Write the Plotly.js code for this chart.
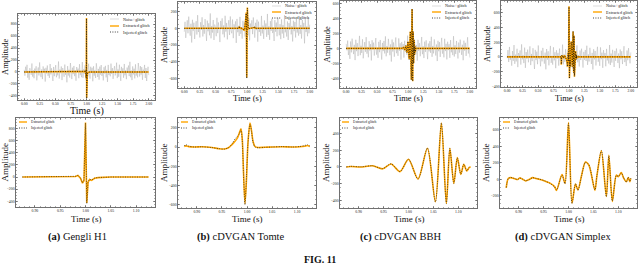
<!DOCTYPE html>
<html><head><meta charset="utf-8">
<script src="https://cdn.plot.ly/plotly-3.0.1.min.js"></script>
<style>html,body{margin:0;padding:0;background:#fff}#chart{width:640px;height:268px}</style>
</head><body><div id="chart"></div>
<script>
// ---------------- data ----------------
const noiseA = [35,-62,88,-14,120,-95,20,-130,64,5,-48,142,-77,31,-105,58,-22,96,-140,12,75,-58,160,-33,-86,44,-118,93,-7,55,-160,70,-25,108,-64,18,-99,133,-41,62,-12,-150,84,-70,27,115,-88,9,-57,175,-110,40,-20,92,-135,66,-3,-80,124,-46,10,-172,98,-60,38,-92,150,-15,-118,72,-36,101,-69,25,-145,83,-8,57,-104,130,-52,14,-87,166,-97,47,-30,112,-125,60,5,-75,138,-40,-110,88,-18,70,-155,95,-62,28,-100,145,-5,-83,52,-128,90,-44,116,-66,21,-140,79,-26,103,-90,35,-165,118,-50,8,-72,140,-33,64,-115,15,97,-58,-12,155,-102,44,-80,122,-38,-148,86,-20,62,-96,134,-55,30,-120,74,-9,108,-68,170,-88,26,-135,93,-41,55,-107,128,-61,17,-90,150,-28,-76,99,-45,82,-130,40,-16,118,-100,66,-150,25,87,-53];
const noiseB = [-42,78,-115,23,96,-60,140,-12,-88,55,-170,102,-30,67,-128,14,85,-75,158,-45,9,-110,73,-20,132,-98,40,-65,110,-5,-150,92,-36,60,-84,178,-120,28,-52,99,-140,45,16,-95,126,-58,70,-24,-165,88,-10,119,-72,35,-108,150,-40,64,-133,20,97,-80,142,-28,-60,105,-118,48,-15,83,-175,112,-47,30,-92,137,-66,2,-124,90,-33,72,-100,160,-54,19,-86,121,-145,58,-8,96,-70,130,-38,-112,66,-22,104,-160,80,-44,12,-90,148,-62,33,-127,94,-17,58,-103,172,-79,24,-138,86,-31,115,-57,6,-152,98,-41,69,-96,125,-25,-84,50,-130,107,-63,37,-117,156,-48,11,-99,82,-140,63,-19,118,-73,27,-158,91,-35,76,-110,135,-52,8,-88,146,-67,39,-123,100,-14,65,-180,110,-45,22,-95,128,-60,44];
const noiseC = [60,-25,104,-88,17,-140,92,-53,130,-10,-76,48,-155,115,-37,70,-102,24,166,-90,35,-60,121,-132,8,84,-45,150,-70,20,-118,96,-28,57,-160,109,-14,77,-95,40,138,-82,3,-126,88,-50,112,-21,-148,73,-36,99,-67,160,-105,31,-58,127,-12,-90,54,-175,118,-42,80,-110,26,145,-64,10,-99,133,-30,68,-150,86,-20,59,-122,102,-48,15,-85,170,-116,38,-72,106,-8,-137,94,-55,122,-26,-80,46,-162,114,-34,71,-104,19,152,-77,28,-128,90,-46,108,-16,-143,65,-40,97,-59,155,-112,33,-66,120,-4,-94,52,-168,101,-38,83,-113,22,140,-70,13,-119,128,-35,61,-146,89,-23,56,-125,110,-52,18,-89,163,-108,42,-75,99,-11,-134,78,-57,117,-29,-86,49,-157,103,-30,74,-100,25,148,-68,7,-121];
const noiseD = [-18,92,-70,135,-40,15,-120,78,-55,160,-95,30,-62,110,-140,52,-8,88,-105,170,-35,21,-85,126,-150,66,-27,99,-74,12,143,-112,40,-58,118,-16,-165,95,-44,71,-100,155,-30,6,-128,84,-61,122,-20,-92,58,-170,107,-39,76,-115,28,149,-82,14,-106,131,-48,63,-154,90,-25,54,-119,113,-51,20,-88,167,-102,36,-69,104,-6,-141,97,-52,125,-23,-78,44,-159,116,-37,73,-101,17,157,-73,26,-131,87,-43,111,-13,-146,68,-41,94,-56,152,-109,34,-63,123,-2,-97,55,-172,104,-35,80,-117,23,137,-67,11,-122,129,-32,58,-149,92,-21,53,-128,108,-49,16,-91,161,-111,45,-78,96,-9,-138,81,-54,114,-27,-83,47,-154,101,-33,77,-98,29,145,-71,4,-124,86,-46,119,-18,-88,60];

// glitch keypoints (time in s, amplitude)
const tA   = [0.875,0.90,0.95,0.97,0.980,0.985,0.990,0.994,0.997,1.000,1.0025,1.005,1.008,1.012,1.018,1.025,1.035,1.05,1.125];
const extA = [0,0,0,2,10,25,-20,-100,-60,900,-430,-90,-40,-55,-20,-10,-3,0,0];
const injA = [0,0,0,3,12,28,-15,-95,-50,890,-440,-85,-35,-50,-18,-8,-2,0,0];

const tB   = [0.875,0.878,0.884,0.895,0.91,0.93,0.945,0.955,0.963,0.970,0.976,0.981,0.985,0.988,0.9905,0.993,0.996,0.999,1.002,1.006,1.009,1.012,1.016,1.022,1.035,1.05,1.07,1.09,1.105,1.115,1.12,1.125];
const extB = [5,12,4,0,2,-5,-18,-20,-8,25,60,95,150,190,90,-250,-590,-330,50,250,170,60,5,-5,-3,0,3,0,2,8,15,5];
const injB = [10,25,8,0,2,-6,-18,-22,-6,30,85,110,140,180,70,-280,-600,-300,40,240,160,50,0,-8,-3,0,4,0,5,15,25,10];

const tC   = [0.875,0.884,0.904,0.928,0.948,0.965,0.983,1.000,1.019,1.038,1.054,1.066,1.076,1.083,1.091,1.098,1.105,1.111,1.117,1.122,1.125];
const extC = [0,5,0,14,-22,36,-56,92,-144,224,-416,524,-436,224,-196,112,-88,32,-48,-4,0];
const injC = [0,8,2,14,-20,38,-55,92,-145,226,-418,526,-436,222,-198,110,-86,34,-46,-2,2];

const tD   = [0.875,0.879,0.884,0.891,0.898,0.902,0.908,0.914,0.921,0.928,0.935,0.941,0.952,0.962,0.972,0.976,0.987,0.993,1.000,1.007,1.014,1.019,1.026,1.034,1.041,1.053,1.057,1.066,1.076,1.081,1.088,1.096,1.100,1.106,1.111,1.116,1.120,1.123,1.125];
const extD = [-106,8,20,8,-4,16,0,-20,-4,20,8,0,-20,-45,-90,-135,57,-50,690,-290,-60,-130,40,210,170,-135,40,345,-210,290,-270,50,30,80,10,-30,20,-30,10];
const injD = [-100,5,22,10,-2,14,2,-18,-6,18,10,2,-18,-48,-92,-130,50,-55,680,-295,-55,-135,35,205,175,-130,45,350,-215,285,-265,45,35,75,15,-35,25,-25,15];

const panelLetters = ["(a)","(b)","(c)","(d)"];
const panelNames   = ["Gengli H1","cDVGAN Tomte","cDVGAN BBH","cDVGAN Simplex"];
const figLabel = "FIG. 11";
const seriesNames = ["Noise+glitch","Extracted glitch","Injected glitch"];
const xLabel = "Time (s)", yLabel = "Amplitude";

const topXTicks = [0,0.25,0.5,0.75,1.0,1.25,1.5,1.75,2.0];
const topXTickText = ["0.00","0.25","0.50","0.75","1.00","1.25","1.50","1.75","2.00"];
const zoomXTicks = [0.90,0.95,1.00,1.05,1.10];
const zoomXTickText = ["0.90","0.95","1.00","1.05","1.10"];
const topYTicks = [[-400,-200,0,200,400,600,800],[-600,-400,-200,0,200],[-400,-200,0,200,400,600],[-400,-200,0,200,400,600]];
const zoomYTicks = [[-400,-200,0,200,400,600,800],[-600,-400,-200,0,200],[-400,-200,0,200,400],[-200,0,200,400,600]];

// ---------------- layout geometry (px) ----------------
const W = 640, H = 268;
const topBoxes = [[18,155,14,100],[178,316,2,88],[340,476,1,88],[501,637,1,87]];
const botBoxes = [[16,155,118,207],[178,316,118,208],[340,477,118,208],[500,637,118,208]];
const topYRange = [[-467,967],[-715,315],[-526,630],[-410,760]];
const botYRange = [[-495,975],[-635,302],[-490,585],[-350,745]];
const topXRange = [-0.1,2.1], botXRange = [0.8625,1.1375];

const noises = [noiseA,noiseB,noiseC,noiseD];
const ts = [tA,tB,tC,tD], exts=[extA,extB,extC,extD], injs=[injA,injB,injC,injD];

const SERIF = "'Liberation Serif', 'Times New Roman', serif";
const ORANGE = "#FFA500";
const NOISE = "rgba(165,165,165,0.42)";
const DOT = "1px,1.4px";

function px2x(p){return p/W;} function px2y(p){return 1-p/H;}
function minus(v){return String(v).replace('-','\u2212');}

const traces = [], layout = {
  width:W, height:H, margin:{l:0,r:0,t:0,b:0}, paper_bgcolor:'#fff', plot_bgcolor:'#fff',
  showlegend:false, annotations:[], shapes:[], font:{family:SERIF}
};

function axis(box, horiz, range, tickvals, ticktext, minorD, anchor){
  return {
    domain: horiz ? [px2x(box[0]),px2x(box[1])] : [px2y(box[3]),px2y(box[2])],
    range: range, anchor: anchor, showline:true, linecolor:'#333', linewidth:0.7, mirror:'allticks',
    ticks:'inside', ticklen:2.4, tickwidth:0.5, tickcolor:'#333', showgrid:false, zeroline:false,
    tickmode:'array', tickvals:tickvals, ticktext:ticktext,
    tickfont:{family:SERIF,size:3.8,color:'#222'},
    minor:{ticks:'inside', ticklen:1.3, tickwidth:0.4, tickcolor:'#333', dtick:minorD, tick0:0, showgrid:false}
  };
}

function legend(x0,x1,xt,rows,items,fs){
  items.forEach((it,i)=>{
    const y = px2y(rows[i]);
    layout.shapes.push({type:'line',xref:'paper',yref:'paper',x0:px2x(x0),x1:px2x(x1),y0:y,y1:y,
      line:{color:it.color,width:it.width,dash:it.dash||'solid'}});
    layout.annotations.push({xref:'paper',yref:'paper',x:px2x(xt),y:y,xanchor:'left',yanchor:'middle',
      text:it.name,showarrow:false,font:{family:SERIF,size:fs,color:'#222'}});
  });
}

const topLeg = [[110,119,121,[19,26,32]],[272,281,283,[6,12,18]],[432,441,443,[6,12,18]],[593,602,604,[6,12,18]]];
const botLeg = [[19,27,29,[122,128]],[181,188,190,[122,128]],[342,349,351,[122,128]],[503,510,512,[122,128]]];
const topXTitleY = [111,98,98,98], topXTitleSize=[10,8.5,8.5,8.5];
const topYTitleX = [5,164,326,487], botYTitleX=[4,164,326,486];
const capX = [77,240,400,563];

for(let p=0;p<4;p++){
  const iT = 2*p+1, iB = 2*p+2;
  const xT = 'x'+(iT===1?'':iT), yT='y'+(iT===1?'':iT), xB='x'+iB, yB='y'+iB;
  const n = noises[p];
  const tn = n.map((_,i)=>2*i/(n.length-1));
  traces.push({x:tn,y:n,xaxis:xT,yaxis:yT,mode:'lines',name:seriesNames[0],line:{color:NOISE,width:0.9},hoverinfo:'skip'});
  const t = ts[p], e = exts[p], j = injs[p];
  const tFull = [0,t[0]].concat(t,[t[t.length-1],2]);
  const eFull = [0,0].concat(e,[0,0]);
  const jFull = [0,0].concat(j,[0,0]);
  traces.push({x:tFull,y:eFull,xaxis:xT,yaxis:yT,mode:'lines',name:seriesNames[1],line:{color:ORANGE,width:1.6}});
  traces.push({x:tFull,y:jFull,xaxis:xT,yaxis:yT,mode:'lines',name:seriesNames[2],line:{color:'#111',width:0.8,dash:DOT}});
  const shp = p===0 ? 'linear' : 'spline';
  traces.push({x:t,y:e,xaxis:xB,yaxis:yB,mode:'lines',name:seriesNames[1],line:{color:ORANGE,width:1.6,shape:shp,smoothing:0.8}});
  traces.push({x:t,y:j,xaxis:xB,yaxis:yB,mode:'lines',name:seriesNames[2],line:{color:'#222',width:0.7,dash:DOT,shape:shp,smoothing:0.8}});

  const tb = topBoxes[p], bb = botBoxes[p];
  layout['xaxis'+(iT===1?'':iT)] = axis(tb,true,topXRange,topXTicks,topXTickText,0.05,yT);
  layout['yaxis'+(iT===1?'':iT)] = axis(tb,false,topYRange[p],topYTicks[p],topYTicks[p].map(minus),50,xT);
  layout['xaxis'+iB] = axis(bb,true,botXRange,zoomXTicks,zoomXTickText,0.01,yB);
  layout['yaxis'+iB] = axis(bb,false,botYRange[p],zoomYTicks[p],zoomYTicks[p].map(minus),50,xB);

  layout.annotations.push({xref:'paper',yref:'paper',x:px2x((tb[0]+tb[1])/2),y:px2y(topXTitleY[p]),text:xLabel,showarrow:false,
    xanchor:'center',yanchor:'middle',font:{family:SERIF,size:topXTitleSize[p],color:'#111'}});
  layout.annotations.push({xref:'paper',yref:'paper',x:px2x(topYTitleX[p]),y:px2y((tb[2]+tb[3])/2),text:yLabel,showarrow:false,textangle:-90,
    xanchor:'center',yanchor:'middle',font:{family:SERIF,size:8.5,color:'#111'}});
  layout.annotations.push({xref:'paper',yref:'paper',x:px2x((bb[0]+bb[1])/2),y:px2y(219),text:xLabel,showarrow:false,
    xanchor:'center',yanchor:'middle',font:{family:SERIF,size:9,color:'#111'}});
  layout.annotations.push({xref:'paper',yref:'paper',x:px2x(botYTitleX[p]),y:px2y((bb[2]+bb[3])/2),text:yLabel,showarrow:false,textangle:-90,
    xanchor:'center',yanchor:'middle',font:{family:SERIF,size:9,color:'#111'}});

  const tl = topLeg[p];
  legend(tl[0],tl[1],tl[2],tl[3],[
    {name:seriesNames[0],color:'rgba(170,170,170,0.5)',width:0.8},
    {name:seriesNames[1],color:ORANGE,width:1.4},
    {name:seriesNames[2],color:'#111',width:0.8,dash:DOT}],4.2);
  const bl = botLeg[p];
  legend(bl[0],bl[1],bl[2],bl[3],[
    {name:seriesNames[1],color:ORANGE,width:1.4},
    {name:seriesNames[2],color:'#111',width:0.8,dash:DOT}],3.7);

  layout.annotations.push({xref:'paper',yref:'paper',x:px2x(capX[p]),y:px2y(237),text:'<b>'+panelLetters[p]+'</b> '+panelNames[p],
    showarrow:false,xanchor:'center',yanchor:'middle',font:{family:SERIF,size:10.5,color:'#111'}});
}
layout.annotations.push({xref:'paper',yref:'paper',x:0.5,y:px2y(259),text:'<b>'+figLabel+'</b>',showarrow:false,
  xanchor:'center',yanchor:'middle',font:{family:SERIF,size:10,color:'#111'}});

Plotly.newPlot('chart',traces,layout,{staticPlot:true,displayModeBar:false});
</script></body></html>
